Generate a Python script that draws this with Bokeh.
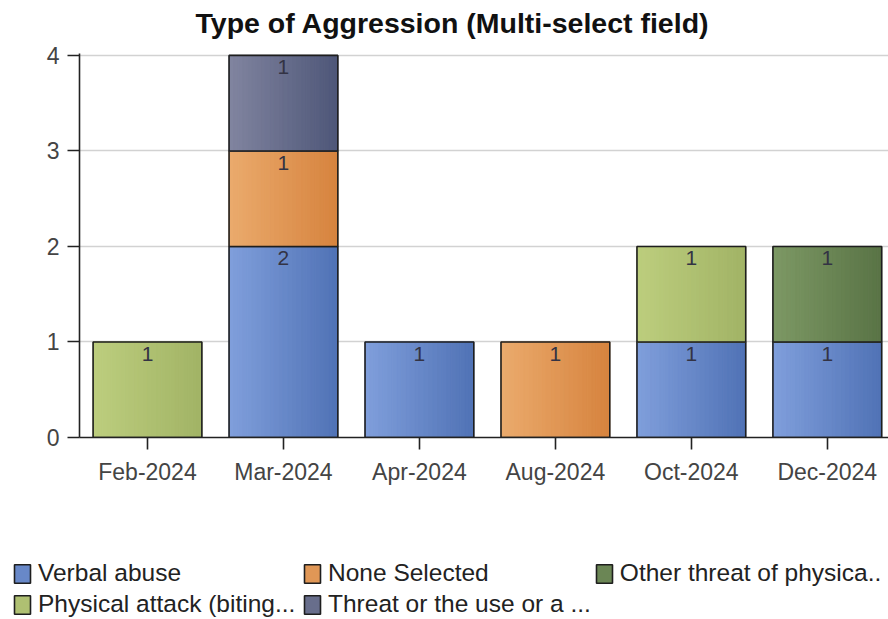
from bokeh.plotting import figure
from bokeh.models import (Range1d, ColumnDataSource, Legend, LegendItem,
                          FixedTicker, Title, LabelSet)
from bokeh.core.properties import value
from bokeh.embed import file_html
from bokeh.resources import INLINE

# ---- data -------------------------------------------------------------
months = ["Feb-2024", "Mar-2024", "Apr-2024", "Aug-2024", "Oct-2024", "Dec-2024"]

series_names = ["Verbal abuse", "None Selected", "Physical attack (biting...",
                "Other threat of physica..", "Threat or the use or a ..."]

verbal_abuse = [0, 2, 1, 0, 1, 1]
none_selected = [0, 1, 0, 1, 0, 0]
physical_attack = [1, 0, 0, 0, 1, 0]
other_threat = [0, 0, 0, 0, 0, 1]
threat_use = [0, 1, 0, 0, 0, 0]

series_values = [verbal_abuse, none_selected, physical_attack, other_threat, threat_use]

# left/right shade of each series (bars are shaded horizontally)
shades = [("#7f9edb", "#5173b6"),
          ("#eaaa6c", "#d7843f"),
          ("#bccd7d", "#a2b466"),
          ("#7c9864", "#5a7446"),
          ("#80849f", "#4f5779")]
legend_order = [0, 2, 1, 4, 3]

FONT = "Liberation Sans"
BAR_W = 0.8
STRIPS = 24


def mix(c1, c2, t):
    a = [int(c1[i:i + 2], 16) for i in (1, 3, 5)]
    b = [int(c2[i:i + 2], 16) for i in (1, 3, 5)]
    return "#" + "".join(f"{round(x + (y - x) * t):02x}" for x, y in zip(a, b))


# ---- chart ------------------------------------------------------------
p = figure(width=888, height=535, output_backend="svg", toolbar_location=None,
           x_range=Range1d(0, 5.95), y_range=Range1d(0, 4.02),
           min_border_left=79, min_border_right=0, min_border_top=53,
           min_border_bottom=98, background_fill_color="white",
           border_fill_color="white", outline_line_color=None)

# spacer between the title and the plot area, then the title itself
p.add_layout(Title(text=" ", text_font_size="1px", standoff=12), "above")
p.add_layout(Title(text="Type of Aggression (Multi-select field)", align="left",
                   offset=116, standoff=0, text_font=FONT, text_font_size="28.5px",
                   text_font_style="bold", text_color="#111111"), "above")

centers = [i + 0.5 for i in range(len(months))]
base = [0] * len(months)
for name, vals, (c_left, c_right) in zip(series_names, series_values, shades):
    idx = [i for i, v in enumerate(vals) if v > 0]
    bottoms = [base[i] for i in idx]
    tops = [base[i] + vals[i] for i in idx]
    lefts = [centers[i] - BAR_W / 2 for i in idx]
    # shaded strips
    sl, sr, sb, st, sc = [], [], [], [], []
    for l, b, t in zip(lefts, bottoms, tops):
        for k in range(STRIPS):
            sl.append(l + BAR_W * k / STRIPS)
            sr.append(l + BAR_W * (k + 1) / STRIPS)
            sb.append(b)
            st.append(t)
            sc.append(mix(c_left, c_right, k / (STRIPS - 1)))
    p.quad(left=sl, right=sr, bottom=sb, top=st, fill_color=sc, line_color=sc,
           line_width=1)
    # outline
    p.quad(left=lefts, right=[l + BAR_W for l in lefts], bottom=bottoms, top=tops,
           fill_color=None, line_color="#1e1e1e", line_width=1.6)
    # value labels
    src = ColumnDataSource(dict(x=[centers[i] for i in idx], y=tops,
                                t=[str(vals[i]) for i in idx]))
    p.add_layout(LabelSet(x="x", y="y", text="t", source=src, y_offset=-5,
                          text_align="center", text_baseline="top",
                          text_font=value(FONT), text_font_size="21px",
                          text_color="#333344"))
    for i in idx:
        base[i] += vals[i]

# axes
p.xaxis.ticker = FixedTicker(ticks=centers)
p.xaxis.major_label_overrides = {c: m for c, m in zip(centers, months)}
p.yaxis.ticker = FixedTicker(ticks=[0, 1, 2, 3, 4])
for ax in (p.xaxis, p.yaxis):
    ax.axis_line_color = "#222222"
    ax.axis_line_width = 1.6
    ax.major_tick_line_color = "#222222"
    ax.major_tick_line_width = 1.6
    ax.major_tick_in = 0
    ax.major_tick_out = 12
    ax.minor_tick_line_color = None
    ax.major_label_text_font = FONT
    ax.major_label_text_font_size = "23px"
    ax.major_label_text_color = "#444444"
p.xaxis.major_label_standoff = 9
p.yaxis.major_label_standoff = 8
p.xgrid.grid_line_color = None
p.ygrid.ticker = FixedTicker(ticks=[1, 2, 3, 4])
p.ygrid.grid_line_color = "#d2d2d2"
p.ygrid.grid_line_width = 1.5

# ---- legend strip -----------------------------------------------------
lg = figure(width=888, height=84, output_backend="svg", toolbar_location=None,
            x_range=Range1d(0, 1), y_range=Range1d(0, 1),
            x_axis_type=None, y_axis_type=None,
            min_border_left=0, min_border_right=0, min_border_top=0,
            min_border_bottom=0,
            background_fill_color="white", border_fill_color="white",
            outline_line_color=None)
lg.grid.visible = False

# one off-range quad per series, only used as the legend swatch
swatches = [lg.quad(left=[-3], right=[-2], bottom=[-3], top=[-2],
                    fill_color=mix(c_left, c_right, 0.5),
                    line_color="#1e1e1e", line_width=1.6)
            for c_left, c_right in shades]

legend = Legend(items=[LegendItem(label=series_names[i], renderers=[swatches[i]])
                       for i in legend_order],
                location=(12, 1), orientation="vertical", nrows=2,
                padding=0, margin=0, spacing=3, label_standoff=6,
                glyph_width=20, glyph_height=23, label_width=261,
                label_text_font=FONT, label_text_font_size="24.5px",
                label_text_color="#222222", border_line_color=None,
                background_fill_alpha=0)
lg.add_layout(legend, "center")

open("out.html", "w").write(file_html([p, lg], INLINE))
